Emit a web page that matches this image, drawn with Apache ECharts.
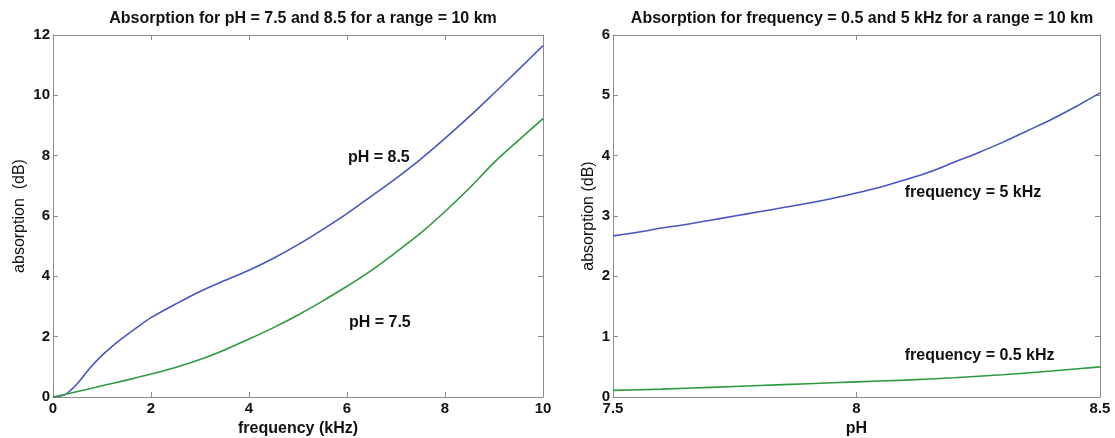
<!DOCTYPE html>
<html>
<head>
<meta charset="utf-8">
<script src="https://cdn.jsdelivr.net/npm/echarts@6/dist/echarts.min.js"></script>
<style>
html,body{margin:0;padding:0;background:#fff;}
#c{width:1115px;height:438px;}
</style>
</head>
<body>
<div id="c"></div>
<script>
// ---- Left panel data: absorption vs frequency ----
var freqKHz = [0,0.25,0.5,0.75,1,1.25,1.5,1.75,2,2.5,3,3.5,4,4.5,5,5.5,6,6.5,7,7.5,8,8.5,9,9.5,10];
var absPH85 = [0,0.08,0.45,0.95,1.38,1.74,2.05,2.35,2.63,3.08,3.5,3.86,4.2,4.6,5.05,5.55,6.08,6.66,7.25,7.88,8.57,9.3,10.07,10.85,11.65];
var freqKHzG = [0,0.5,1,1.5,2,2.5,3,3.5,4,4.5,5,5.5,6,6.5,7,7.5,8,8.5,9,9.5,10];
var absPH75 = [0,0.18,0.37,0.56,0.76,0.98,1.24,1.56,1.92,2.3,2.72,3.18,3.67,4.2,4.8,5.43,6.15,6.93,7.77,8.51,9.23];

// ---- Right panel data: absorption vs pH ----
var pHValues = [7.5,7.55,7.6,7.65,7.7,7.75,7.8,7.85,7.9,7.95,8.0,8.05,8.1,8.15,8.2,8.25,8.3,8.35,8.4,8.45,8.5];
var absF5 = [2.67,2.73,2.8,2.86,2.93,3.0,3.07,3.14,3.21,3.29,3.38,3.48,3.6,3.73,3.89,4.05,4.22,4.41,4.6,4.81,5.04];
var pHValuesG = [7.5,7.6,7.7,7.8,7.9,8.0,8.1,8.2,8.3,8.4,8.5];
var absF05 = [0.11,0.13,0.16,0.19,0.22,0.25,0.28,0.32,0.37,0.43,0.5];

// ---- Texts ----
var titleLeft = 'Absorption for pH = 7.5 and 8.5 for a range = 10 km';
var titleRight = 'Absorption for frequency = 0.5 and 5 kHz for a range = 10 km';
var xNameLeft = 'frequency (kHz)';
var xNameRight = 'pH';
var yNameLeft = 'absorption  (dB)';
var yNameRight = 'absorption (dB)';
var annotLeft = [[6.65, 7.92, 'pH = 8.5'], [6.67, 2.45, 'pH = 7.5']];
var annotRight = [[8.099, 3.39, 'frequency = 5 kHz'], [8.099, 0.68, 'frequency = 0.5 kHz']];

var FONT = '"Liberation Sans", Arial, Helvetica, sans-serif';
var BLUE = '#4657c2';
var GREEN = '#2e9a3e';
var FRAME = '#8c8c8c';
var TEXT = '#111';

function zip(a, b) { return a.map(function (v, i) { return [v, b[i]]; }); }

function xAx(grid, min, max, interval, pos, name) {
  var main = pos === 'bottom';
  return {
    type: 'value', gridIndex: grid, min: min, max: max, interval: interval, position: pos,
    name: main ? name : '', nameLocation: 'middle', nameGap: 23,
    nameTextStyle: { fontFamily: FONT, fontSize: 16, fontWeight: 'bold', color: TEXT },
    axisLine: { show: true, onZero: false, lineStyle: { color: FRAME, width: 1 } },
    axisTick: { show: true, inside: true, length: 5, lineStyle: { color: FRAME } },
    axisLabel: { show: main, margin: 4, fontFamily: FONT, fontSize: 15, fontWeight: 'bold', color: TEXT,
      formatter: function (v) { return String(v); } },
    splitLine: { show: false }
  };
}
function yAx(grid, min, max, interval, pos, name, gap) {
  var main = pos === 'left';
  return {
    type: 'value', gridIndex: grid, min: min, max: max, interval: interval, position: pos,
    name: main ? name : '', nameLocation: 'middle', nameGap: gap,
    nameTextStyle: { fontFamily: FONT, fontSize: 16, color: TEXT },
    axisLine: { show: true, onZero: false, lineStyle: { color: FRAME, width: 1 } },
    axisTick: { show: true, inside: true, length: 5, lineStyle: { color: FRAME } },
    axisLabel: { show: main, margin: 3, fontFamily: FONT, fontSize: 15, fontWeight: 'bold', color: TEXT },
    splitLine: { show: false }
  };
}
function lineSeries(x, y, data, color) {
  return { type: 'line', xAxisIndex: x, yAxisIndex: y, data: data, showSymbol: false, smooth: 0.3,
    lineStyle: { color: color, width: 1.6 }, itemStyle: { color: color }, animation: false, z: 3 };
}
function annotSeries(x, y, data, align) {
  return { type: 'scatter', xAxisIndex: x, yAxisIndex: y, data: data, symbolSize: 0, animation: false,
    itemStyle: { opacity: 1 },
    label: { show: true, position: 'inside', align: align, verticalAlign: 'middle',
      fontFamily: FONT, fontSize: 16, fontWeight: 'bold', color: TEXT, opacity: 1,
      textBorderWidth: 0,
      formatter: function (p) { return p.value[2]; } } };
}

var chart = echarts.init(document.getElementById('c'), null, { renderer: 'canvas' });
chart.setOption({
  backgroundColor: '#fff',
  animation: false,
  title: [
    { text: titleLeft, left: 298, top: 6, textAlign: 'center',
      textStyle: { fontFamily: FONT, fontSize: 16, fontWeight: 'bold', color: TEXT } },
    { text: titleRight, left: 857, top: 6, textAlign: 'center',
      textStyle: { fontFamily: FONT, fontSize: 16, fontWeight: 'bold', color: TEXT } }
  ],
  grid: [
    { left: 53, right: 572, top: 35, bottom: 41, containLabel: false, outerBoundsMode: 'none' },
    { left: 613, right: 15, top: 35, bottom: 41, containLabel: false, outerBoundsMode: 'none' }
  ],
  xAxis: [
    xAx(0, 0, 10, 2, 'bottom', xNameLeft),
    xAx(0, 0, 10, 2, 'top', ''),
    xAx(1, 7.5, 8.5, 0.5, 'bottom', xNameRight),
    xAx(1, 7.5, 8.5, 0.5, 'top', '')
  ],
  yAxis: [
    yAx(0, 0, 12, 2, 'left', yNameLeft, 25),
    yAx(0, 0, 12, 2, 'right', '', 0),
    yAx(1, 0, 6, 1, 'left', yNameRight, 16),
    yAx(1, 0, 6, 1, 'right', '', 0)
  ],
  series: [
    lineSeries(0, 0, zip(freqKHz, absPH85), BLUE),
    lineSeries(0, 0, zip(freqKHzG, absPH75), GREEN),
    lineSeries(2, 2, zip(pHValues, absF5), BLUE),
    lineSeries(2, 2, zip(pHValuesG, absF05), GREEN),
    annotSeries(0, 0, annotLeft, 'center'),
    annotSeries(2, 2, annotRight, 'left')
  ]
});
</script>
</body>
</html>
